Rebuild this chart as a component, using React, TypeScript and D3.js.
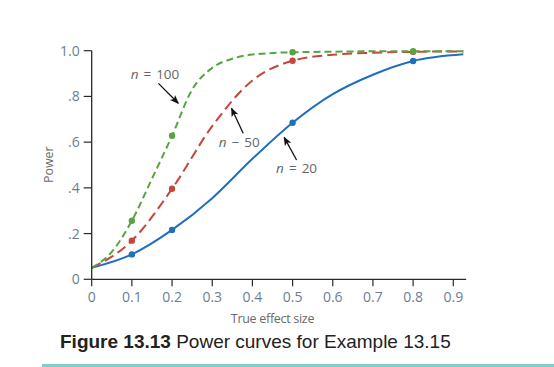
import { scaleLinear, line as d3_line, curveMonotoneX } from "d3";

const effect = [0, 0.1, 0.2, 0.3, 0.4, 0.5, 0.6, 0.7, 0.8, 0.925];
const power20 = [0.05, 0.109, 0.216, 0.355, 0.527, 0.685, 0.81, 0.895, 0.955, 0.984];
const power50 = [0.05, 0.169, 0.396, 0.67, 0.87, 0.956, 0.982, 0.991, 0.995, 0.997];
const effect100 = [0, 0.05, 0.1, 0.15, 0.2, 0.25, 0.3, 0.35, 0.4, 0.5, 0.8, 0.925];
const power100 = [0.05, 0.12, 0.256, 0.44, 0.628, 0.83, 0.925, 0.965, 0.983, 0.993, 0.998, 0.998];

// points with markers
const markedEffects = [0.1, 0.2, 0.5, 0.8];

const xTicks = [0, 0.1, 0.2, 0.3, 0.4, 0.5, 0.6, 0.7, 0.8, 0.9];
const xTickLabels = ["0", "0.1", "0.2", "0.3", "0.4", "0.5", "0.6", "0.7", "0.8", "0.9"];
const yTicks = [0, 0.2, 0.4, 0.6, 0.8, 1.0];
const yTickLabels = ["0", ".2", ".4", ".6", ".8", "1.0"];

// annotation: label position, arrow tail, arrow tip (data units)
const notes = [
  { n: "100", label: [0.1575, 0.875], from: [0.166, 0.857], to: [0.2155, 0.77] },
  { n: "50", label: [0.367, 0.58], from: [0.377, 0.639], to: [0.348, 0.748], minus: true },
  { n: "20", label: [0.51, 0.466], from: [0.51, 0.522], to: [0.479, 0.621] },
];

const tickColor = "#6e7d94";
const axisColor = "#2a2a2a";

export default function App() {
  const x = scaleLinear().domain([0, 0.9]).range([91.7, 453.3]);
  const y = scaleLinear().domain([0, 1]).range([279.3, 50.7]);

  const path = (xs: number[], ys: number[]) =>
    d3_line<number>()
      .x((_, i) => x(xs[i]))
      .y((d) => y(d))
      .curve(curveMonotoneX)(ys) ?? "";

  const series = [
    { xs: effect, ys: power20, color: "#1f6fc1", dash: "none" },
    { xs: effect, ys: power50, color: "#c4473b", dash: "10,5" },
    { xs: effect100, ys: power100, color: "#58a344", dash: "7,4" },
  ];

  const font = "'Open Sans', 'DejaVu Sans', sans-serif";

  return (
    <svg
      width={554}
      height={367}
      style={{ position: "absolute", left: 0, top: 0, background: "#fff" }}
      fontFamily={font}
    >
      <defs>
        <marker id="ah" viewBox="0 0 10 10" refX="9" refY="5" markerWidth="7" markerHeight="7" orient="auto">
          <path d="M0,1 L10,5 L0,9 L2.5,5 Z" fill="#111" />
        </marker>
      </defs>

      {/* curves */}
      {series.map((s, i) => (
        <path
          key={i}
          d={path(s.xs, s.ys)}
          fill="none"
          stroke={s.color}
          strokeWidth={2}
          strokeDasharray={s.dash}
        />
      ))}
      {series.map((s, i) =>
        markedEffects.map((e) => {
          const j = s.xs.indexOf(e);
          return <circle key={`${i}-${e}`} cx={x(e)} cy={y(s.ys[j])} r={3.2} fill={s.color} />;
        })
      )}

      {/* axes */}
      <line x1={x(0)} x2={x(0)} y1={y(1)} y2={y(0)} stroke={axisColor} strokeWidth={1.3} />
      <line x1={x(0)} x2={x(0.932)} y1={y(0)} y2={y(0)} stroke={axisColor} strokeWidth={1.3} />
      {yTicks.map((t, i) => (
        <g key={t}>
          <line x1={x(0) - 8} x2={x(0)} y1={y(t)} y2={y(t)} stroke={axisColor} strokeWidth={1.2} />
          <text x={x(0) - 12} y={y(t) + 5} textAnchor="end" fontSize={14} fill={tickColor}>
            {yTickLabels[i]}
          </text>
        </g>
      ))}
      {xTicks.map((t, i) => (
        <g key={t}>
          <line x1={x(t)} x2={x(t)} y1={y(0)} y2={y(0) + 7} stroke={axisColor} strokeWidth={1.2} />
          <text x={x(t)} y={301.7} textAnchor="middle" fontSize={14} fill={tickColor}>
            {xTickLabels[i]}
          </text>
        </g>
      ))}

      <text x={272.5} y={322.5} textAnchor="middle" fontSize={12.5} fill="#6a6a6a" letterSpacing={-0.3}>
        True effect size
      </text>
      <text
        transform="translate(53,164.7) rotate(-90)"
        textAnchor="middle"
        fontSize={12.5}
        fill="#6a6a6a"
      >
        Power
      </text>

      {/* annotations */}
      {notes.map((a) => (
        <g key={a.n}>
          <text x={x(a.label[0])} y={y(a.label[1])} textAnchor="middle" fontSize={13.5} fill="#666" wordSpacing={1.5}>
            <tspan fontStyle="italic">n</tspan>
            {a.minus ? " \u2212 " : " = "}
            {a.n}
          </text>
          <line
            x1={x(a.from[0])}
            y1={y(a.from[1])}
            x2={x(a.to[0])}
            y2={y(a.to[1])}
            stroke="#111"
            strokeWidth={1.3}
            markerEnd="url(#ah)"
          />
        </g>
      ))}

      {/* caption */}
      <text x={60} y={348.3} fontFamily="'Liberation Sans', Arial, sans-serif" fontSize={19} fill="#222">
        <tspan fontWeight="bold">Figure 13.13</tspan> Power curves for Example 13.15
      </text>
      <rect x={42} y={364} width={512} height={3} fill="#7fcfc8" />
    </svg>
  );
}
